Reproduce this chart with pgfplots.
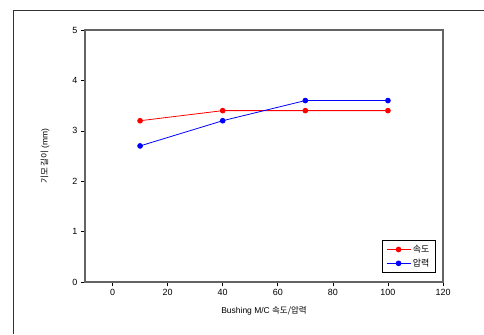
\documentclass[border=0pt]{standalone}
\usepackage{pgfplots}
\pgfplotsset{compat=1.18}
\usepackage{fontspec}
\setmainfont{Liberation Sans}
\newfontfamily\kr{Noto Sans CJK KR}
\definecolor{axgray}{RGB}{100,100,100}
\begin{document}
\begin{tikzpicture}[x=1bp,y=1bp]
\path[use as bounding box] (0,0) rectangle (484,334);
\draw[line width=0.8bp, black!80] (13,0) -- (13,324) -- (484,324);
\begin{axis}[
  at={(85bp,52bp)}, anchor=south west,
  width=358bp, height=252bp, scale only axis,
  xmin=-10, xmax=120, ymin=0, ymax=5,
  xtick={0,20,40,60,80,100,120}, ytick={0,1,2,3,4,5},
  tick pos=left, tick align=outside,
  major tick length=4bp,
  axis line style={axgray, line width=1.3bp},
  every tick/.style={black, line width=0.6bp},
  tick label style={font=\fontsize{9}{10}\selectfont},
  /pgf/number format/assume math mode=true,
  xlabel={\fontsize{8.5}{9}\selectfont Bushing M/C {\kr 속도/압력}},
  ylabel={\fontsize{8.5}{9}\selectfont{\kr 기모 길이} (mm)},
  xlabel style={at={(axis description cs:0.5,0)}, anchor=center, yshift=-29bp},
  ylabel style={at={(axis description cs:0,0.5)}, anchor=center, rotate=0, yshift=40bp},
  legend style={at={(0.98,0.035)}, anchor=south east, draw=black, line width=0.8bp,
    font=\fontsize{9}{10}\selectfont\kr, inner xsep=4bp, inner ysep=3bp, row sep=1bp},
  legend cell align=left,
  legend image code/.code={%
    \draw[mark repeat=2, mark phase=2, #1] plot coordinates {(0bp,0bp) (12bp,0bp) (24bp,0bp)};},
]
\addplot[red, line width=0.8bp, mark=*, mark size=2.4bp, mark options={solid}] coordinates {(10,3.2) (40,3.4) (70,3.4) (100,3.4)};
\addlegendentry{속도}
\addplot[blue, line width=0.8bp, mark=*, mark size=2.4bp, mark options={solid}] coordinates {(10,2.7) (40,3.2) (70,3.6) (100,3.6)};
\addlegendentry{압력}
\end{axis}
\end{tikzpicture}
\end{document}
